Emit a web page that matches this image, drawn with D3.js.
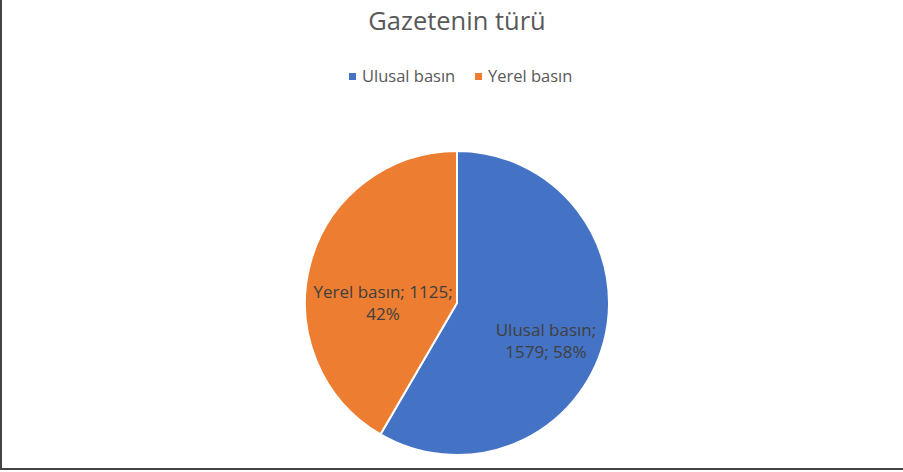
<!DOCTYPE html>
<html>
<head>
<meta charset="utf-8">
<script src="https://cdn.jsdelivr.net/npm/d3@7"></script>
<style>
  body { margin: 0; background: #fff; }
  svg { display: block; font-family: "Open Sans", "Liberation Sans", sans-serif; }
</style>
</head>
<body>
<script>
var categories = ['Ulusal basın', 'Yerel basın']
var values = [1579, 1125]
var colors = ['#4472C4', '#ED7D31']
var title = 'Gazetenin türü'

var width = 903
var height = 472
var cx = 457, cy = 303, radius = 152

var svg = d3.select('body').append('svg').attr('width', width).attr('height', height)

// chart border (only left and bottom edges are visible in frame)
svg.append('rect').attr('x', 1).attr('y', -5).attr('width', width + 10).attr('height', 474)
    .attr('fill', 'none').attr('stroke', '#444').attr('stroke-width', 2)

svg.append('text').attr('x', 457).attr('y', 30).attr('text-anchor', 'middle')
    .attr('font-size', 25.5).attr('fill', '#595959').text(title)

// legend
var color = d3.scaleOrdinal().domain(categories).range(colors)
var legendX = [349, 475]
var legend = svg.append('g').selectAll('g').data(categories).enter().append('g')
    .attr('transform', (d, i) => `translate(${legendX[i]}, 73)`)
legend.append('rect').attr('width', 7).attr('height', 7).attr('fill', d => color(d))
legend.append('text').attr('x', 13).attr('y', 9).attr('font-size', 16.5).attr('fill', '#595959').text(d => d)

var total = d3.sum(values)
var data = categories.map((c, i) => ({ name: c, value: values[i] }))
var pie = d3.pie().value(d => d.value).sort(null)
var arc = d3.arc().innerRadius(0).outerRadius(radius)

var g = svg.append('g').attr('transform', `translate(${cx}, ${cy})`)
g.selectAll('path').data(pie(data)).enter().append('path')
    .attr('d', arc).attr('fill', d => color(d.data.name))
    .attr('stroke', '#fff').attr('stroke-width', 2)

// data labels
var labelArc = d3.arc().innerRadius(radius * 0.62).outerRadius(radius * 0.62)
var labelLines = [
    d => [d.data.name + ';', d.data.value + '; ' + Math.round(d.data.value / total * 100) + '%'],
    d => [d.data.name + '; ' + d.data.value + ';', Math.round(d.data.value / total * 100) + '%']
]
var labelOffset = [[-2, 8], [17, 20]]
g.selectAll('text.lbl').data(pie(data)).enter().append('text').attr('class', 'lbl')
    .attr('text-anchor', 'middle').attr('font-size', 17).attr('fill', '#404040')
    .each(function (d, i) {
        var p = labelArc.centroid(d)
        var lines = labelLines[i](d)
        var t = d3.select(this)
        lines.forEach((l, j) => {
            t.append('tspan').attr('x', p[0] + labelOffset[i][0])
                .attr('y', p[1] + labelOffset[i][1] + j * 22).text(l)
        })
    })
</script>
</body>
</html>
